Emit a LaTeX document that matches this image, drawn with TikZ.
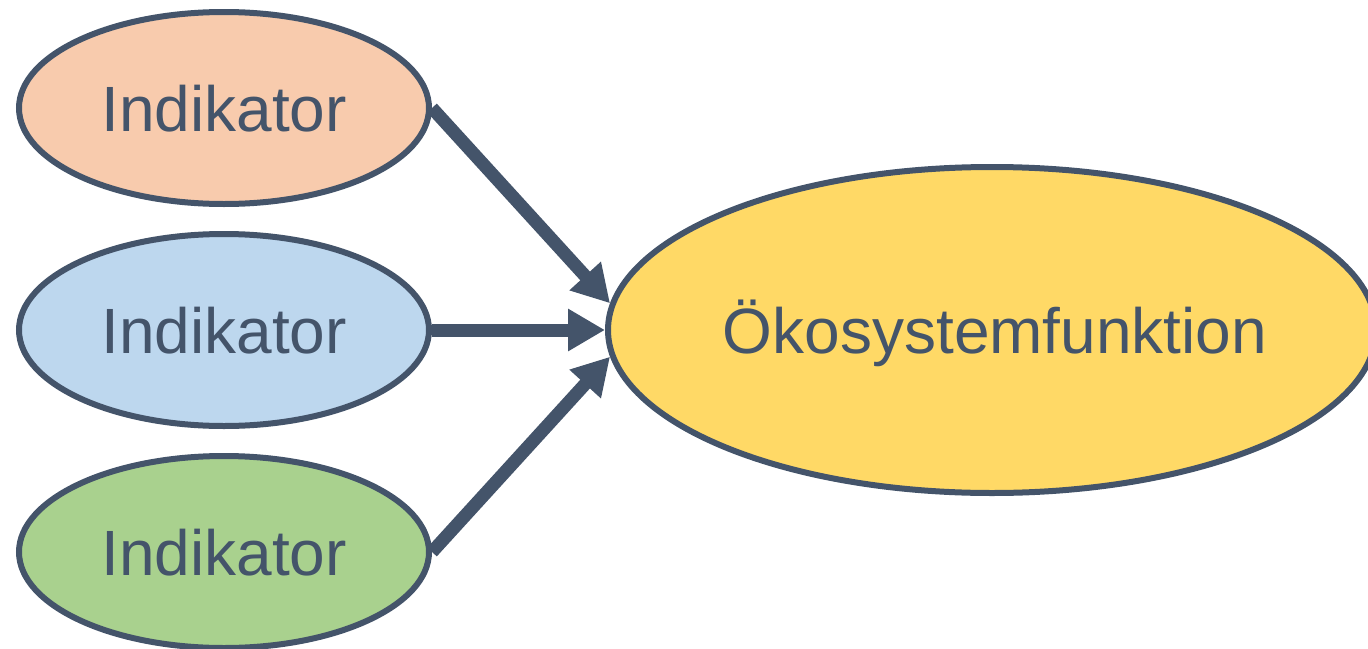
\documentclass[tikz,border=0pt]{standalone}
\usepackage{fontspec}
\setmainfont{Liberation Sans}
\usetikzlibrary{shapes.geometric,arrows.meta}
\definecolor{slate}{HTML}{44546A}
\definecolor{peach}{HTML}{F8CBAD}
\definecolor{skyblue}{HTML}{BDD7EE}
\definecolor{leaf}{HTML}{A9D18E}
\definecolor{sun}{HTML}{FFD966}
\begin{document}
\begin{tikzpicture}[x=1pt,y=-1pt,
  blob/.style={ellipse, draw=slate, line width=6pt, inner sep=0pt,
    text=slate, font=\fontsize{64}{70}\selectfont,
    text height=46pt, text depth=0pt},
  small/.style={blob, minimum width=410pt, minimum height=192pt},
  big/.style={blob, fill=sun, minimum width=768pt, minimum height=326pt},
  link/.style={draw=slate, line width=13pt,
    -{Triangle[length=37pt,width=40pt]}}]
  \useasboundingbox (0,0) rectangle (1368,648);
  % three indicators feeding one ecosystem function
  \node[small, fill=peach] (ind1) at (224,108) {\makebox[0pt]{Indikator}};
  \node[small, fill=skyblue] (ind2) at (224,330) {\makebox[0pt]{Indikator}};
  \node[small, fill=leaf] (ind3) at (224,552) {\makebox[0pt]{Indikator}};
  \node[big] (fn) at (992,330) {\makebox[0pt]{\hspace{6pt}Ökosystemfunktion}};
  \draw[link] (ind1.east) -- (fn.176);
  \draw[link] (ind2.east) -- (fn.west);
  \draw[link] (ind3.east) -- (fn.184);
\end{tikzpicture}
\end{document}
